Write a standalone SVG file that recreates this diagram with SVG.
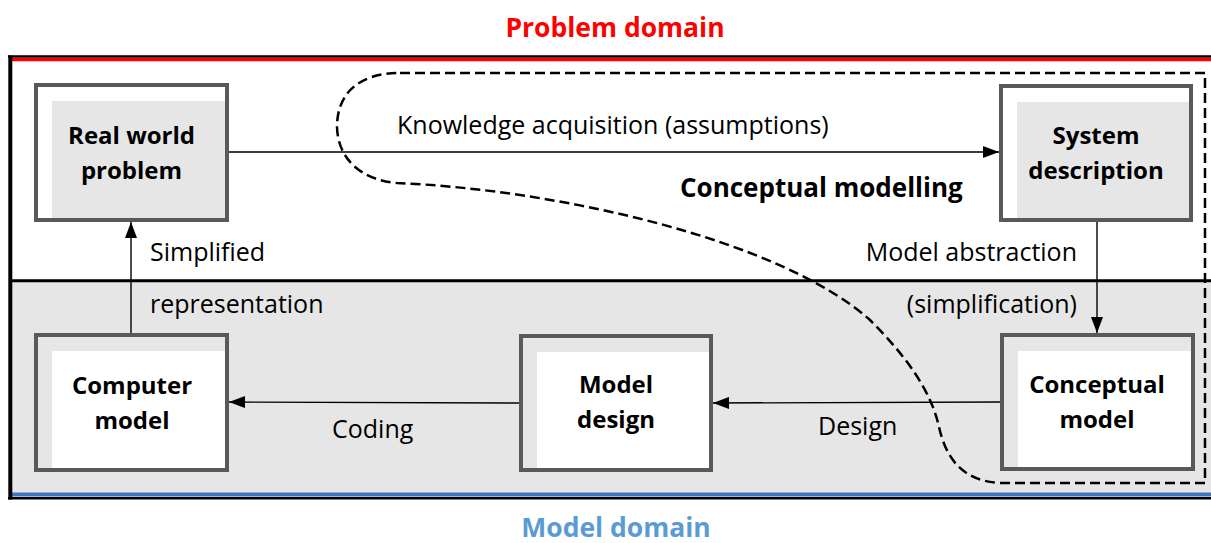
<svg xmlns="http://www.w3.org/2000/svg" width="1211" height="543" viewBox="0 0 1211 543">
  <style>
    .t { font-family: "Open Sans", "Liberation Sans", sans-serif; fill: #000; }
    .lbl { font-size: 25px; }
    .node { font-size: 24px; font-weight: bold; text-anchor: middle; }
    .dom { font-size: 27px; font-weight: bold; text-anchor: middle; }
    .frame { fill: none; stroke: #595959; stroke-width: 4; }
    .conn { stroke: #000; stroke-width: 1.4; fill: none; }
  </style>
  <defs>
    <marker id="arrow" viewBox="0 0 16 12" refX="16" refY="6" markerWidth="16" markerHeight="12" markerUnits="userSpaceOnUse" orient="auto">
      <path d="M0,0 L16,6 L0,12 Z" fill="#000"/>
    </marker>
  </defs>

  <rect width="1211" height="543" fill="#fff"/>

  <!-- domain bands -->
  <rect x="10" y="58" width="1201" height="222" fill="#fff"/>
  <rect x="10" y="281" width="1201" height="213" fill="#e6e6e6"/>
  <line x1="8" y1="56.5" x2="1211" y2="56.5" stroke="#000" stroke-width="2.5"/>
  <line x1="12" y1="59.5" x2="1211" y2="59.5" stroke="#ff0000" stroke-width="3.5"/>
  <line x1="10" y1="280.7" x2="1211" y2="280.7" stroke="#000" stroke-width="3"/>
  <line x1="12" y1="494.6" x2="1211" y2="494.6" stroke="#4472c4" stroke-width="4"/>
  <line x1="8" y1="498.2" x2="1211" y2="498.2" stroke="#000" stroke-width="2.5"/>
  <line x1="10.3" y1="55.5" x2="10.3" y2="499.5" stroke="#000" stroke-width="4"/>

  <text class="t dom" x="615" y="37" style="fill:#ff0000;font-size:26.5px">Problem domain</text>
  <text class="t dom" x="616" y="537" style="fill:#5b9bd5;font-size:26.5px">Model domain</text>

  <!-- conceptual modelling boundary -->
  <path d="M 400 73 L 1205 73 L 1205 483 L 1000 483 C 962 481 946 458 939 427 C 931 390 905 355 870 320 C 780 240 560 190 397 183 C 362 180 338 160 337 127 C 337 95 357 73 400 73 Z"
        fill="none" stroke="#000" stroke-width="2.5" stroke-dasharray="10 5"/>
  <text class="t" x="680" y="197" font-size="26" font-weight="bold">Conceptual modelling</text>

  <!-- connectors -->
  <g id="connectors">
    <line class="conn" x1="229" y1="152" x2="999" y2="152" marker-end="url(#arrow)"/>
    <line class="conn" x1="1097" y1="222" x2="1097" y2="333" marker-end="url(#arrow)"/>
    <line class="conn" x1="1000" y1="402" x2="713" y2="403" marker-end="url(#arrow)"/>
    <line class="conn" x1="519" y1="403" x2="229" y2="402" marker-end="url(#arrow)"/>
    <line class="conn" x1="131" y1="333" x2="131" y2="222" marker-end="url(#arrow)"/>
    <text class="t lbl" x="397" y="134">Knowledge acquisition (assumptions)</text>
    <text class="t lbl" x="1077" y="261" text-anchor="end">Model abstraction</text>
    <text class="t lbl" x="1077" y="313" text-anchor="end">(simplification)</text>
    <text class="t lbl" x="150" y="261">Simplified</text>
    <text class="t lbl" x="150" y="313">representation</text>
    <text class="t lbl" x="332" y="438">Coding</text>
    <text class="t lbl" x="818" y="435">Design</text>
  </g>

  <!-- nodes -->
  <g id="real-world-problem">
    <rect x="36" y="85" width="191" height="135" fill="#fff"/>
    <rect x="52" y="101" width="175" height="119" fill="#e6e6e6"/>
    <rect class="frame" x="36" y="85" width="191" height="135"/>
    <text class="t node" x="131.5" y="144">Real world</text>
    <text class="t node" x="131.5" y="179">problem</text>
  </g>

  <g id="system-description">
    <rect x="1001" y="86" width="190" height="134" fill="#fff"/>
    <rect x="1017" y="102" width="174" height="118" fill="#e6e6e6"/>
    <rect class="frame" x="1001" y="86" width="190" height="134"/>
    <text class="t node" x="1096" y="144">System</text>
    <text class="t node" x="1096" y="179">description</text>
  </g>

  <g id="computer-model">
    <rect x="36" y="335" width="191" height="135" fill="#e6e6e6"/>
    <rect x="52" y="351" width="175" height="119" fill="#fff"/>
    <rect class="frame" x="36" y="335" width="191" height="135"/>
    <text class="t node" x="132" y="394">Computer</text>
    <text class="t node" x="132" y="429">model</text>
  </g>

  <g id="model-design">
    <rect x="521" y="336" width="190" height="134" fill="#e6e6e6"/>
    <rect x="537" y="352" width="174" height="118" fill="#fff"/>
    <rect class="frame" x="521" y="336" width="190" height="134"/>
    <text class="t node" x="616" y="393">Model</text>
    <text class="t node" x="616" y="428">design</text>
  </g>

  <g id="conceptual-model">
    <rect x="1002" y="335" width="191" height="134" fill="#e6e6e6"/>
    <rect x="1018" y="351" width="175" height="118" fill="#fff"/>
    <rect class="frame" x="1002" y="335" width="191" height="134"/>
    <text class="t node" x="1097" y="393">Conceptual</text>
    <text class="t node" x="1097" y="428">model</text>
  </g>
</svg>
